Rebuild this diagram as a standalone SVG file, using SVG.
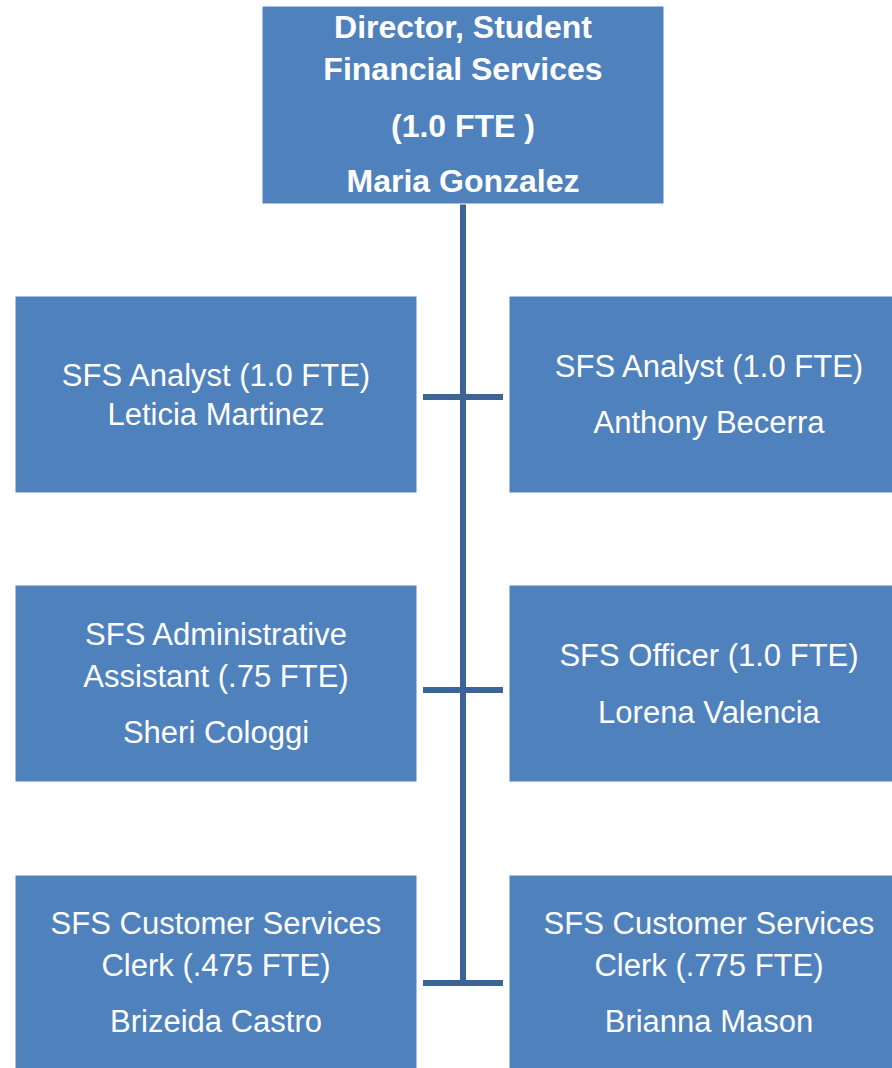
<svg xmlns="http://www.w3.org/2000/svg" width="892" height="1068" viewBox="0 0 892 1068">
<style>
.box{fill:#4F81BD;stroke:#ffffff;stroke-width:1}
.t{font-family:"Liberation Sans",Arial,sans-serif;font-size:31px;fill:#ffffff;text-anchor:middle}
.b{font-weight:bold;font-size:32px}
.ln{stroke:#3C6496;stroke-width:6;fill:none}
</style>
<rect width="892" height="1068" fill="#ffffff"/>
<g id="connectors">
<line class="ln" x1="463" y1="204" x2="463" y2="986"/>
<line class="ln" x1="423" y1="397" x2="503" y2="397"/>
<line class="ln" x1="423" y1="690" x2="503" y2="690"/>
<line class="ln" x1="423" y1="983" x2="503" y2="983"/>
</g>
<g id="director">
<rect class="box" x="262" y="6" width="402" height="198"/>
<text class="t b" x="463" y="38">Director, Student</text>
<text class="t b" x="463" y="80">Financial Services</text>
<text class="t b" x="463" y="137">(1.0 FTE )</text>
<text class="t b" x="463" y="192">Maria Gonzalez</text>
</g>
<g id="analyst-martinez">
<rect class="box" x="15" y="296" width="402" height="197"/>
<text class="t" x="216" y="386">SFS Analyst (1.0 FTE)</text>
<text class="t" x="216" y="425">Leticia Martinez</text>
</g>
<g id="analyst-becerra">
<rect class="box" x="509" y="296" width="390" height="197"/>
<text class="t" x="709" y="377">SFS Analyst (1.0 FTE)</text>
<text class="t" x="709" y="433">Anthony Becerra</text>
</g>
<g id="admin-cologgi">
<rect class="box" x="15" y="585" width="402" height="197"/>
<text class="t" x="216" y="645">SFS Administrative</text>
<text class="t" x="216" y="687">Assistant (.75 FTE)</text>
<text class="t" x="216" y="743">Sheri Cologgi</text>
</g>
<g id="officer-valencia">
<rect class="box" x="509" y="585" width="390" height="197"/>
<text class="t" x="709" y="666">SFS Officer (1.0 FTE)</text>
<text class="t" x="709" y="723">Lorena Valencia</text>
</g>
<g id="clerk-castro">
<rect class="box" x="15" y="875" width="402" height="200"/>
<text class="t" x="216" y="934">SFS Customer Services</text>
<text class="t" x="216" y="976">Clerk (.475 FTE)</text>
<text class="t" x="216" y="1032">Brizeida Castro</text>
</g>
<g id="clerk-mason">
<rect class="box" x="509" y="875" width="390" height="200"/>
<text class="t" x="709" y="934">SFS Customer Services</text>
<text class="t" x="709" y="976">Clerk (.775 FTE)</text>
<text class="t" x="709" y="1032">Brianna Mason</text>
</g>
</svg>
